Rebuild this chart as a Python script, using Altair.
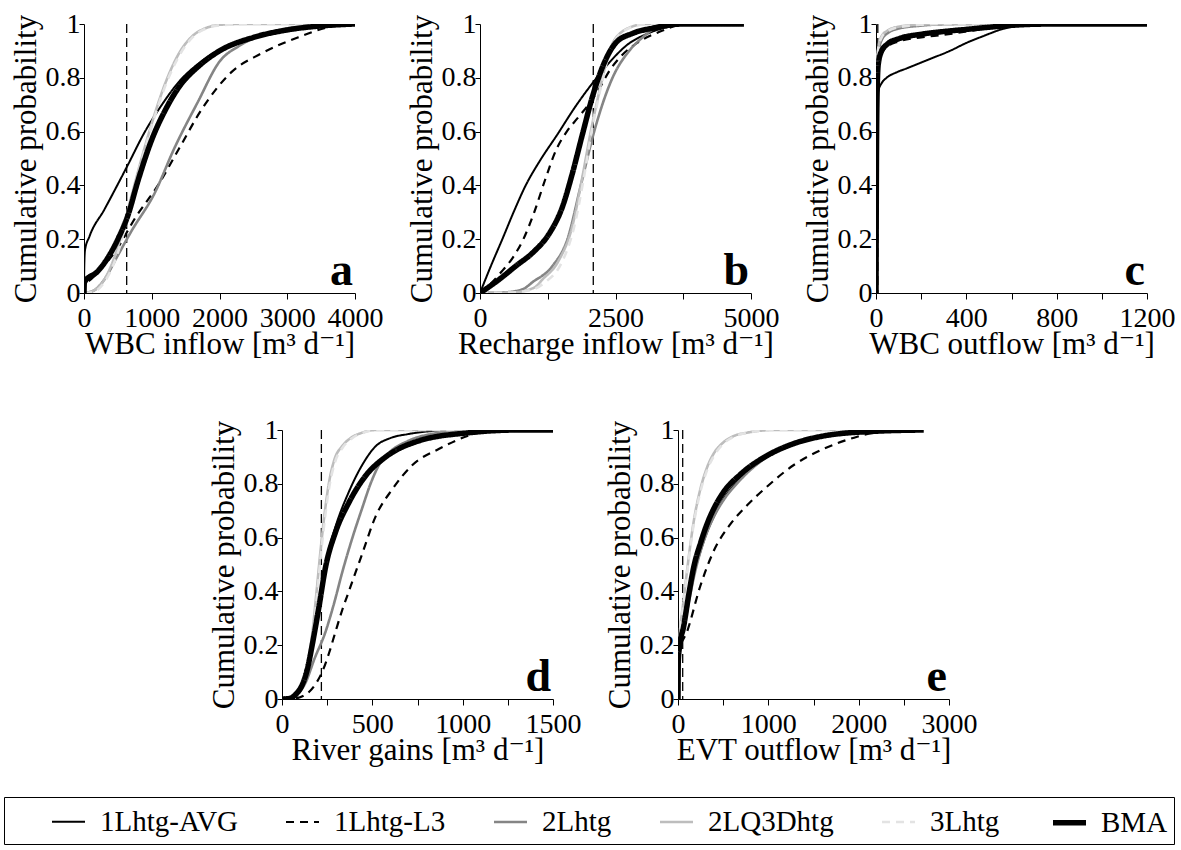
import altair as alt
import pandas as pd

SERIF = "Liberation Serif, Times New Roman, DejaVu Serif, serif"

MODELS = ["1Lhtg-AVG", "1Lhtg-L3", "2Lhtg", "2LQ3Dhtg", "3Lhtg", "BMA"]
COLORS = ["#000000", "#000000", "#858585", "#bdbdbd", "#e3e3e3", "#000000"]
DASHES = [[1, 0], [8, 6], [1, 0], [1, 0], [8, 6], [1, 0]]
WIDTHS = [2.0, 2.2, 2.6, 2.6, 2.6, 5.5]

# ---------- panel a : WBC inflow ----------
a_avg = [(0, 0), (4, 0.1), (15, 0.16), (80, 0.21), (300, 0.31), (635, 0.47), (900, 0.6), (1150, 0.7),
         (1400, 0.785), (1700, 0.855), (2000, 0.905), (2500, 0.953), (3000, 0.978), (3500, 0.993), (4000, 1)]
a_l3 = [(0, 0), (8, 0.03), (100, 0.05), (250, 0.09), (450, 0.15), (771, 0.285), (1091, 0.40), (1410, 0.54),
        (1730, 0.68), (2172, 0.82), (2614, 0.89), (3155, 0.95), (3646, 0.99), (4000, 1)]
a_2l = [(0, 0), (150, 0.01), (300, 0.05), (500, 0.14), (700, 0.23), (1040, 0.37), (1337, 0.54), (1680, 0.71),
        (2000, 0.86), (2300, 0.92), (2700, 0.965), (3200, 0.99), (4000, 1)]
a_2lq = [(0, 0), (150, 0.01), (300, 0.05), (500, 0.17), (700, 0.36), (850, 0.5), (1000, 0.63), (1200, 0.78),
         (1400, 0.89), (1600, 0.955), (1800, 0.985), (2000, 0.997), (2300, 1), (4000, 1)]
a_3l = [(0, 0), (150, 0.005), (300, 0.04), (500, 0.15), (700, 0.34), (850, 0.49), (1000, 0.62), (1200, 0.77),
        (1400, 0.88), (1600, 0.95), (1800, 0.983), (2000, 0.995), (2400, 1), (4000, 1)]
a_bma = [(0, 0), (5, 0.04), (200, 0.08), (350, 0.13), (500, 0.2), (650, 0.29), (800, 0.42), (1000, 0.57),
         (1200, 0.68), (1400, 0.765), (1700, 0.845), (2000, 0.9), (2500, 0.95), (3000, 0.978), (3500, 0.993), (4000, 1)]

# ---------- panel b : Recharge inflow ----------
b_avg = [(0, 0), (200, 0.1), (412, 0.2), (640, 0.31), (843, 0.4), (1100, 0.49), (1430, 0.59), (1750, 0.69),
         (2075, 0.78), (2400, 0.86), (2700, 0.92), (3100, 0.965), (3500, 0.99), (4000, 1), (4870, 1)]
b_l3 = [(0, 0), (200, 0.035), (400, 0.08), (600, 0.13), (800, 0.2), (1000, 0.3), (1200, 0.42), (1400, 0.53),
        (1600, 0.6), (1800, 0.65), (2000, 0.7), (2200, 0.76), (2400, 0.83), (2600, 0.88), (2900, 0.93),
        (3300, 0.97), (3800, 1), (4870, 1)]
b_2l = [(0, 0), (500, 0.003), (800, 0.015), (967, 0.04), (1336, 0.1), (1613, 0.2), (1860, 0.4), (2106, 0.6),
        (2445, 0.8), (2752, 0.9), (3000, 0.95), (3430, 1), (4870, 1)]
b_2lq = [(0, 0), (600, 0.002), (1000, 0.02), (1151, 0.05), (1450, 0.12), (1706, 0.25), (1878, 0.42), (2044, 0.6),
         (2260, 0.8), (2383, 0.9), (2690, 0.98), (3060, 1), (4870, 1)]
b_3l = [(0, 0), (600, 0.002), (1000, 0.015), (1200, 0.04), (1500, 0.11), (1730, 0.24), (1900, 0.41), (2060, 0.6),
        (2270, 0.8), (2400, 0.9), (2700, 0.98), (3100, 1), (4870, 1)]
b_bma = [(0, 0), (351, 0.05), (659, 0.1), (1000, 0.155), (1275, 0.22), (1520, 0.32), (1705, 0.445), (1890, 0.59),
         (2075, 0.73), (2260, 0.84), (2506, 0.93), (2814, 0.965), (3200, 0.985), (3740, 1), (4870, 1)]

# ---------- panel c : WBC outflow ----------
c_avg = [(0, 0), (2, 0.4), (5, 0.68), (10, 0.75), (25, 0.78), (47, 0.8), (90, 0.82), (136, 0.835), (239, 0.87),
         (327, 0.9), (401, 0.93), (475, 0.955), (563, 0.982), (652, 0.996), (750, 1), (1200, 1)]
c_l3 = [(0, 0), (2, 0.5), (5, 0.74), (10, 0.84), (25, 0.89), (50, 0.915), (100, 0.935), (200, 0.95), (300, 0.96),
        (400, 0.972), (500, 0.985), (600, 0.993), (700, 0.998), (800, 1), (1200, 1)]
c_2l = [(0, 0), (2, 0.6), (5, 0.82), (10, 0.89), (25, 0.94), (50, 0.965), (100, 0.983), (200, 0.994), (300, 0.999),
        (400, 1), (1200, 1)]
c_2lq = [(0, 0), (2, 0.65), (5, 0.85), (10, 0.91), (25, 0.955), (50, 0.975), (100, 0.99), (200, 0.998), (300, 1),
         (1200, 1)]
c_3l = [(0, 0), (2, 0.64), (5, 0.84), (10, 0.905), (25, 0.95), (50, 0.972), (100, 0.988), (200, 0.997), (300, 1),
        (1200, 1)]
c_bma = [(0, 0), (2, 0.5), (5, 0.75), (10, 0.85), (25, 0.9), (50, 0.925), (100, 0.945), (200, 0.962), (300, 0.972),
         (400, 0.98), (500, 0.988), (600, 0.995), (700, 0.999), (800, 1), (1200, 1)]

# ---------- panel d : River gains ----------
d_avg = [(0, 0), (40, 0.002), (80, 0.02), (110, 0.05), (140, 0.11), (167, 0.2), (204, 0.34), (241, 0.5),
         (296, 0.64), (370, 0.77), (444, 0.87), (519, 0.94), (600, 0.97), (700, 0.985), (850, 0.997), (1000, 1), (1500, 1)]
d_l3 = [(0, 0), (80, 0.003), (120, 0.012), (148, 0.025), (185, 0.055), (222, 0.1), (260, 0.17), (296, 0.25),
        (333, 0.33), (370, 0.4), (444, 0.54), (519, 0.68), (611, 0.78), (722, 0.87), (870, 0.93), (1037, 0.98),
        (1167, 1), (1500, 1)]
d_2l = [(0, 0), (50, 0.002), (90, 0.02), (130, 0.06), (180, 0.15), (241, 0.25), (290, 0.36), (333, 0.47),
        (390, 0.6), (444, 0.71), (490, 0.8), (537, 0.87), (600, 0.92), (700, 0.96), (870, 0.99), (1000, 1), (1500, 1)]
d_2lq = [(0, 0), (40, 0.003), (80, 0.02), (110, 0.06), (140, 0.13), (167, 0.24), (190, 0.39), (213, 0.55),
         (236, 0.69), (259, 0.8), (290, 0.89), (333, 0.94), (380, 0.97), (444, 0.99), (520, 1), (1500, 1)]
d_3l = [(0, 0), (40, 0.002), (80, 0.018), (112, 0.055), (142, 0.12), (170, 0.23), (193, 0.38), (216, 0.54),
        (239, 0.68), (262, 0.79), (293, 0.88), (336, 0.935), (385, 0.968), (450, 0.99), (530, 1), (1500, 1)]
d_bma = [(0, 0), (40, 0.002), (80, 0.02), (110, 0.05), (140, 0.11), (167, 0.2), (204, 0.34), (241, 0.49),
         (296, 0.62), (370, 0.73), (463, 0.83), (574, 0.9), (759, 0.96), (1037, 0.99), (1315, 1), (1500, 1)]

# ---------- panel e : EVT outflow ----------
e_avg = [(0, 0), (3, 0.14), (15, 0.19), (63, 0.26), (120, 0.37), (174, 0.46), (250, 0.55), (321, 0.62), (400, 0.68),
         (506, 0.745), (691, 0.82), (987, 0.9), (1245, 0.94), (1614, 0.975), (2168, 0.994), (2720, 1)]
e_l3 = [(0, 0), (3, 0.14), (15, 0.18), (100, 0.25), (247, 0.42), (395, 0.55), (580, 0.65), (765, 0.72), (987, 0.79),
        (1282, 0.87), (1614, 0.93), (1984, 0.975), (2168, 0.99), (2353, 0.998), (2500, 1), (2720, 1)]
e_2l = [(0, 0), (3, 0.14), (15, 0.19), (63, 0.26), (120, 0.36), (174, 0.45), (250, 0.55), (321, 0.62), (400, 0.68),
        (506, 0.74), (691, 0.815), (987, 0.9), (1245, 0.945), (1614, 0.978), (2168, 0.995), (2720, 1)]
e_2lq = [(0, 0), (3, 0.15), (15, 0.22), (63, 0.37), (120, 0.53), (174, 0.66), (240, 0.77), (321, 0.86), (400, 0.915),
         (506, 0.955), (620, 0.978), (765, 0.99), (900, 0.997), (1060, 1), (2720, 1)]
e_3l = [(0, 0), (3, 0.15), (15, 0.22), (63, 0.36), (120, 0.52), (174, 0.65), (240, 0.76), (321, 0.85), (400, 0.905),
        (506, 0.95), (620, 0.975), (765, 0.99), (900, 0.997), (1100, 1), (2720, 1)]
e_bma = [(0, 0), (3, 0.14), (15, 0.19), (63, 0.27), (120, 0.39), (174, 0.49), (250, 0.58), (321, 0.65), (400, 0.71),
         (506, 0.77), (691, 0.835), (987, 0.905), (1245, 0.945), (1614, 0.978), (2168, 0.995), (2720, 1)]

# observed values (vertical dashed lines)
OBSERVED = {"a": 630, "b": 2090, "c": 8, "d": 218, "e": 52}

X_TITLES = {"a": "WBC inflow [m\u00b3 d\u207b\u00b9]", "b": "Recharge inflow [m\u00b3 d\u207b\u00b9]",
            "c": "WBC outflow [m\u00b3 d\u207b\u00b9]", "d": "River gains [m\u00b3 d\u207b\u00b9]",
            "e": "EVT outflow [m\u00b3 d\u207b\u00b9]"}
X_MAX = {"a": 4000, "b": 5000, "c": 1200, "d": 1500, "e": 3000}
X_TICK_STEP = {"a": 500, "b": 625, "c": 200, "d": 250, "e": 500}
X_LABEL_STEP = {"a": 1000, "b": 2500, "c": 400, "d": 500, "e": 1000}

SERIES = {
    "a": [a_avg, a_l3, a_2l, a_2lq, a_3l, a_bma],
    "b": [b_avg, b_l3, b_2l, b_2lq, b_3l, b_bma],
    "c": [c_avg, c_l3, c_2l, c_2lq, c_3l, c_bma],
    "d": [d_avg, d_l3, d_2l, d_2lq, d_3l, d_bma],
    "e": [e_avg, e_l3, e_2l, e_2lq, e_3l, e_bma],
}

Y_TICKS = [0, 0.1, 0.2, 0.3, 0.4, 0.5, 0.6, 0.7, 0.8, 0.9, 1]

W, H = 271, 269

LEGEND = alt.Legend(
    orient="none", legendX=-80, legendY=773, direction="horizontal", columns=6,
    symbolType="stroke", symbolSize=1089, labelFont=SERIF, labelFontSize=29, labelColor="black",
    labelOffset=12, labelLimit=400, columnPadding=42, padding=6, strokeColor="black",
    title="\u2003", titleOrient="left", titleFont=SERIF, titleFontSize=28, titlePadding=39,
)


def panel(key):
    rows = []
    for m, pts in zip(MODELS, SERIES[key]):
        for i, (x, p) in enumerate(pts):
            rows.append({"model": m, "x": x, "p": p, "i": i})
    df = pd.DataFrame(rows)
    xmax = X_MAX[key]
    step = X_TICK_STEP[key]
    lstep = X_LABEL_STEP[key]
    xticks = [k * step for k in range(int(round(xmax / step)) + 1)]
    xscale = alt.Scale(domain=[0, xmax], nice=False, zero=True)
    yscale = alt.Scale(domain=[0, 1], nice=False)
    xaxis = alt.Axis(values=xticks, title=X_TITLES[key], labelOverlap=False, labelFlush=False,
                     labelExpr=f"abs(datum.value/{lstep} - round(datum.value/{lstep})) < 1e-6 ? format(datum.value, '~g') : ''")
    yaxis = alt.Axis(values=Y_TICKS, title="Cumulative probability", labelOverlap=False, labelFlush=False,
                     labelExpr="round(datum.value*10) % 2 == 0 ? format(datum.value, '~g') : ''")

    lines = alt.Chart(df).mark_line(interpolate="monotone", clip=True).encode(
        x=alt.X("x:Q", scale=xscale, axis=xaxis),
        y=alt.Y("p:Q", scale=yscale, axis=yaxis),
        color=alt.Color("model:N", scale=alt.Scale(domain=MODELS, range=COLORS), legend=LEGEND),
        strokeDash=alt.StrokeDash("model:N", scale=alt.Scale(domain=MODELS, range=DASHES), legend=LEGEND),
        strokeWidth=alt.StrokeWidth("model:N", scale=alt.Scale(type="ordinal", domain=MODELS, range=WIDTHS),
                                    legend=LEGEND),
        order=alt.Order("i:Q"),
    )
    vline = alt.Chart(pd.DataFrame({"v": [OBSERVED[key]]})).mark_rule(
        color="black", strokeWidth=1.3, strokeDash=[9, 5]).encode(x=alt.X("v:Q"))
    letter = alt.Chart(pd.DataFrame({"t": [key], "x": [xmax], "y": [0]})).mark_text(
        align="right", baseline="alphabetic", dy=-8, dx=-2, font=SERIF, fontSize=46, fontWeight="bold",
        color="black").encode(x="x:Q", y="y:Q", text="t:N")
    return alt.layer(vline, lines, letter).properties(width=W, height=H)


top = alt.hconcat(panel("a"), panel("b"), panel("c"), spacing=22)
mid = alt.hconcat(panel("d"), panel("e"), spacing=22)

chart = alt.vconcat(top, mid, spacing=57, center=True).resolve_scale(
    color="shared", strokeDash="shared", strokeWidth="shared"
).properties(
    padding={"left": 3, "top": 10, "right": 0, "bottom": 0}
).configure_view(stroke=None).configure_axis(
    grid=False, domainColor="black", domainWidth=1, tickColor="black", tickWidth=1, tickSize=6,
    labelFont=SERIF, labelFontSize=28, labelColor="black", labelPadding=2,
    titleFont=SERIF, titleFontSize=31, titleFontWeight="normal", titleColor="black", titlePadding=2,
).configure_axisX(labelPadding=5, titlePadding=-3).configure_axisY(tickSize=5, labelPadding=-1, titlePadding=3)

chart.save("out.html", embed_options={"renderer": "svg", "actions": False})
